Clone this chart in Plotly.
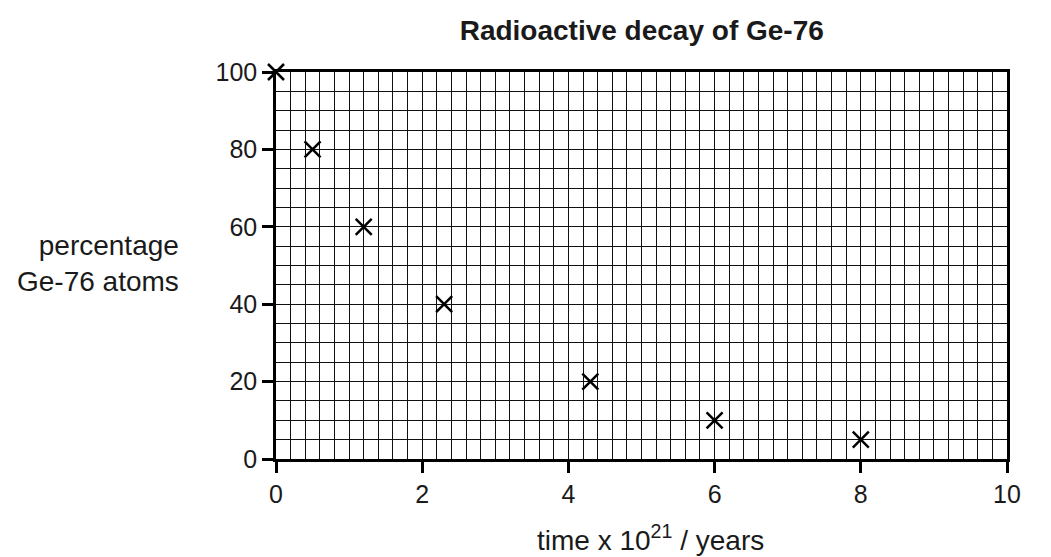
import plotly.graph_objects as go

time_vals = [0, 0.5, 1.2, 2.3, 4.3, 6, 8]
percent_vals = [100, 80, 60, 40, 20, 10, 5]
x_ticks = [0, 2, 4, 6, 8, 10]
y_ticks = [0, 20, 40, 60, 80, 100]

FONT = "Liberation Sans, Arial, Helvetica, sans-serif"
TXT = "#1a1a1a"

fig = go.Figure()
fig.add_trace(go.Scatter(
    x=time_vals, y=percent_vals, mode="markers",
    marker=dict(symbol="x-thin", size=16, line=dict(width=2.5, color="black"), color="black"),
    cliponaxis=False, showlegend=False,
))

axis_common = dict(
    showline=True, linecolor="black", linewidth=2.5, mirror=True,
    ticks="outside", ticklen=11, tickwidth=2.5, tickcolor="black",
    showgrid=True, gridcolor="#111", gridwidth=1.4,
    zeroline=False,
    tickfont=dict(family=FONT, size=25, color=TXT),
)

fig.update_xaxes(range=[0, 10], tickvals=x_ticks, ticktext=[str(v) for v in x_ticks],
                 minor=dict(dtick=0.2, tick0=0, showgrid=True, gridcolor="#111", gridwidth=1.4, ticks=""),
                 **axis_common)
fig.update_yaxes(range=[0, 100], tickvals=y_ticks, ticktext=[str(v) for v in y_ticks],
                 minor=dict(dtick=5, tick0=0, showgrid=True, gridcolor="#111", gridwidth=1.4, ticks=""),
                 **axis_common)

fig.update_layout(
    width=1051, height=557,
    margin=dict(l=268, r=52, t=64, b=106),
    paper_bgcolor="white", plot_bgcolor="white",
    title=dict(text="<b>Radioactive decay of Ge-76</b>", x=0.603, xanchor="center", y=0.96, yanchor="middle",
               font=dict(family=FONT, size=28, color=TXT)),
    annotations=[
        dict(text="percentage<br>Ge-76 atoms", xref="paper", yref="paper", x=-0.13, y=0.504,
             xanchor="right", yanchor="middle", align="right", showarrow=False,
             font=dict(family=FONT, size=28, color=TXT)),
        dict(text="time x 10<sup>21</sup> / years", xref="paper", yref="paper", x=0.512, y=-0.204,
             xanchor="center", yanchor="middle", showarrow=False,
             font=dict(family=FONT, size=28, color=TXT)),
    ],
)

fig.write_html("out.html")
